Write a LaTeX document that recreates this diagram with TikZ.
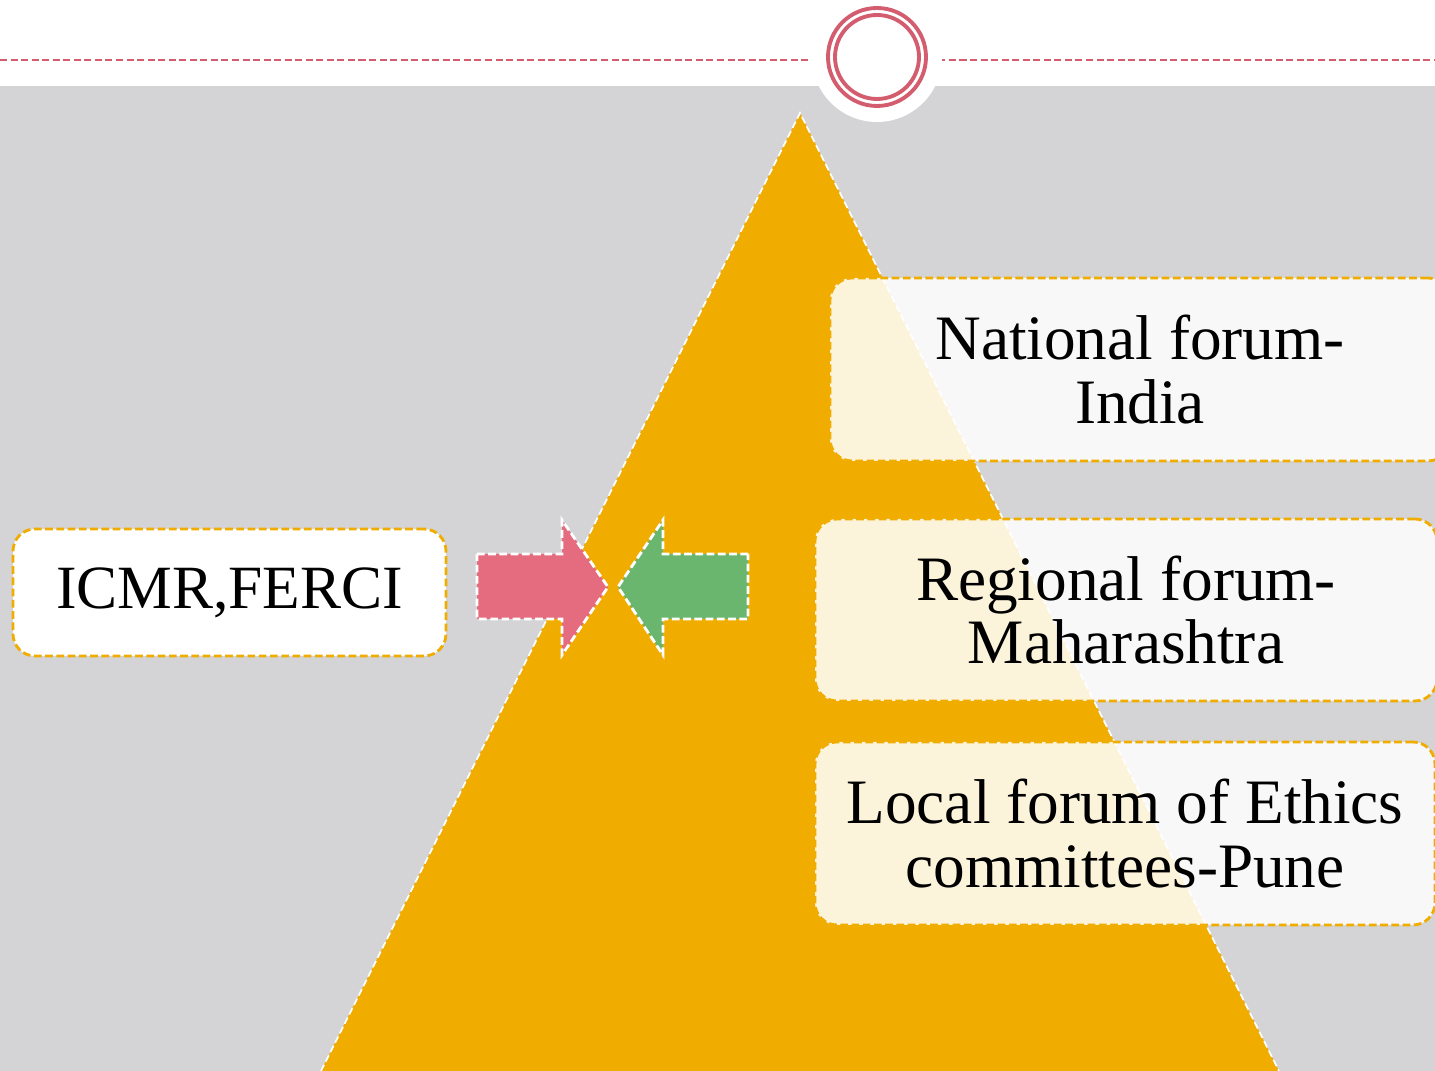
\documentclass[tikz,border=0pt]{standalone}
\usepackage{fontspec}
\setmainfont{Liberation Serif}
\definecolor{pyramid}{HTML}{F0AD00}
\definecolor{slidegray}{HTML}{D4D4D6}
\definecolor{rosered}{HTML}{D35D6E}
\definecolor{arrowpink}{HTML}{E56B7E}
\definecolor{arrowgreen}{HTML}{6BB66F}
\tikzset{
  forum/.style={draw=pyramid, line width=0.8pt, dash pattern=on 2.2pt off 1pt,
    fill=white, fill opacity=0.86, text opacity=1, rounded corners=2.2mm,
    align=center, inner sep=0pt, font=\fontsize{18}{18}\selectfont},
  arrowedge/.style={draw=white, line width=0.8pt, dash pattern=on 2.2pt off 1pt},
}
\begin{document}
\begin{tikzpicture}[x=0.1mm,y=-0.1mm]
\useasboundingbox (0,0) rectangle (1435,1071);

% slide background
\fill[white] (0,0) rectangle (1435,86);
\fill[slidegray] (0,86) rectangle (1435,1071);
\draw[rosered, line width=0.45pt, dash pattern=on 2pt off 1pt] (0,60) -- (1435,60);
\fill[white] (877,57) circle (6.5mm);
\draw[rosered, line width=1.1pt] (877,57) circle (4.9mm);
\draw[rosered, line width=1.1pt] (877,57) circle (4.2mm);

% pyramid
\fill[pyramid] (800,113) -- (1279,1071) -- (321,1071) -- cycle;
\draw[white, line width=0.5pt, dash pattern=on 2pt off 1pt] (321,1071) -- (800,113) -- (1279,1071);

% left box and arrows
\node[forum, fill opacity=1, minimum width=43.3mm, minimum height=12.7mm,
      font=\fontsize{17.5}{17}\selectfont] (icmr) at (229.5,592.5) {ICMR,FERCI};
\fill[arrowpink] (477,554) -- (562,554) -- (562,520) -- (608,587) -- (562,655) -- (562,619) -- (477,619) -- cycle;
\draw[arrowedge] (477,554) -- (562,554) -- (562,520) -- (608,587) -- (562,655) -- (562,619) -- (477,619) -- cycle;
\fill[arrowgreen] (748,554) -- (663,554) -- (663,520) -- (618,587) -- (663,655) -- (663,619) -- (748,619) -- cycle;
\draw[arrowedge] (748,554) -- (663,554) -- (663,520) -- (618,587) -- (663,655) -- (663,619) -- (748,619) -- cycle;

% forum levels
\node[forum, minimum width=62mm, minimum height=18.3mm] (national) at (1140,369.5) {National forum-\\India};
\node[forum, minimum width=62.2mm, minimum height=18.2mm] (regional) at (1126,610) {Regional forum-\\Maharashtra};
\node[forum, minimum width=62mm, minimum height=18.3mm] (local) at (1125,833.5) {Local forum of Ethics\\committees-Pune};

\end{tikzpicture}
\end{document}
